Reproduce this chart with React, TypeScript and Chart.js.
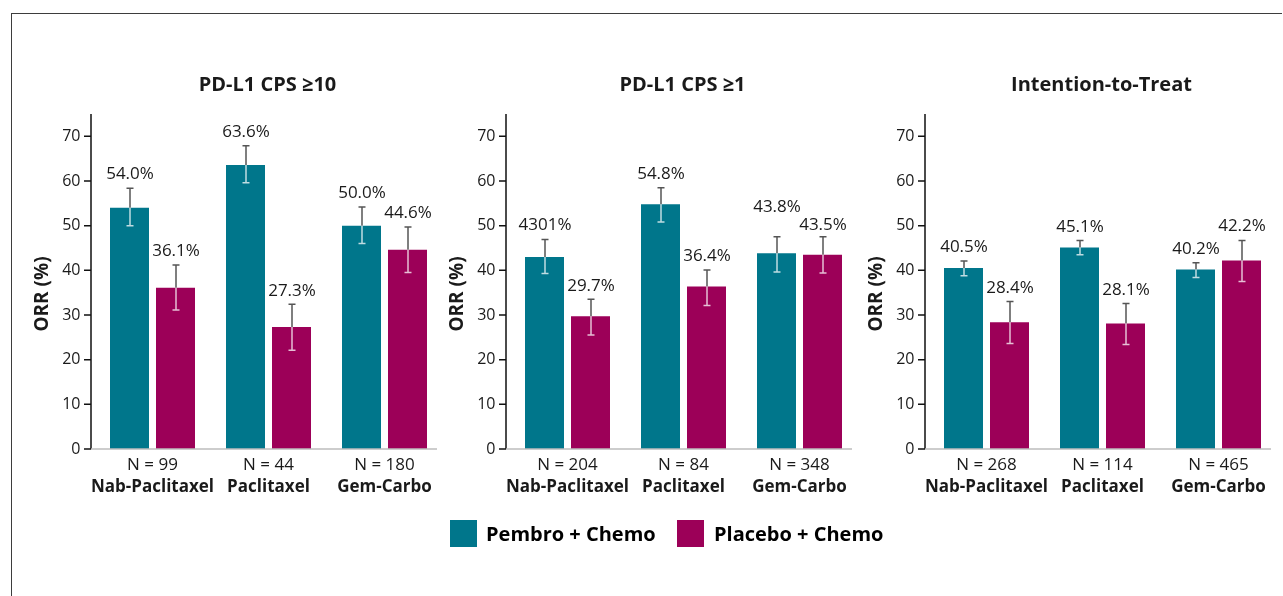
import React, { useEffect, useRef } from 'react';
import { Chart, registerables } from 'chart.js';

Chart.register(...registerables);

// ---------- data ----------
const categories = ['Nab-Paclitaxel', 'Paclitaxel', 'Gem-Carbo'];
const panelTitles = ['PD-L1 CPS ≥10', 'PD-L1 CPS ≥1', 'Intention-to-Treat'];
const seriesNames = ['Pembro + Chemo', 'Placebo + Chemo'];
const yTickValues = [0, 10, 20, 30, 40, 50, 60, 70];
const yAxisTitle = 'ORR (%)';

const nCps10 = ['N = 99', 'N = 44', 'N = 180'];
const nCps1 = ['N = 204', 'N = 84', 'N = 348'];
const nItt = ['N = 268', 'N = 114', 'N = 465'];

const pembroCps10 = [54.0, 63.6, 50.0];
const pembroCps10Low = [50.0, 59.6, 46.0];
const pembroCps10High = [58.4, 67.9, 54.2];
const pembroCps10Labels = ['54.0%', '63.6%', '50.0%'];
const placeboCps10 = [36.1, 27.3, 44.6];
const placeboCps10Low = [31.1, 22.1, 39.5];
const placeboCps10High = [41.2, 32.4, 49.7];
const placeboCps10Labels = ['36.1%', '27.3%', '44.6%'];

const pembroCps1 = [43.0, 54.8, 43.8];
const pembroCps1Low = [39.3, 50.8, 39.6];
const pembroCps1High = [46.9, 58.5, 47.5];
const pembroCps1Labels = ['4301%', '54.8%', '43.8%'];
const placeboCps1 = [29.7, 36.4, 43.5];
const placeboCps1Low = [25.5, 32.1, 39.4];
const placeboCps1High = [33.5, 40.1, 47.5];
const placeboCps1Labels = ['29.7%', '36.4%', '43.5%'];

const pembroItt = [40.5, 45.1, 40.2];
const pembroIttLow = [38.8, 43.5, 38.4];
const pembroIttHigh = [42.1, 46.7, 41.7];
const pembroIttLabels = ['40.5%', '45.1%', '40.2%'];
const placeboItt = [28.4, 28.1, 42.2];
const placeboIttLow = [23.6, 23.4, 37.5];
const placeboIttHigh = [33.0, 32.6, 46.7];
const placeboIttLabels = ['28.4%', '28.1%', '42.2%'];

// ---------- style / layout ----------
const TEAL = '#00768B';
const MAGENTA = '#9C0058';
const TEXT = '#1a1a1a';
const FONT = "'Open Sans', 'Noto Sans', sans-serif";

const CANVAS_TOP = 14;
const CANVAS_H = 582;

type Panel = {
  title: string;
  nLabels: string[];
  values: number[][];
  lows: number[][];
  highs: number[][];
  labels: string[][];
  labelLift: number[][];
  left: number;
  width: number;
  yAxisWidth: number;
  padRight: number;
};

const panels: Panel[] = [
  {
    title: panelTitles[0],
    nLabels: nCps10,
    values: [pembroCps10, placeboCps10],
    lows: [pembroCps10Low, placeboCps10Low],
    highs: [pembroCps10High, placeboCps10High],
    labels: [pembroCps10Labels, placeboCps10Labels],
    labelLift: [[0, 0, 0], [0, 0, 0]],
    left: 14,
    width: 436,
    yAxisWidth: 80.5,
    padRight: 7.5,
  },
  {
    title: panelTitles[1],
    nLabels: nCps1,
    values: [pembroCps1, placeboCps1],
    lows: [pembroCps1Low, placeboCps1Low],
    highs: [pembroCps1High, placeboCps1High],
    labels: [pembroCps1Labels, placeboCps1Labels],
    labelLift: [[0.5, 0, 16.5], [0, 0, -1.5]],
    left: 430,
    width: 440,
    yAxisWidth: 79.5,
    padRight: 12.5,
  },
  {
    title: panelTitles[2],
    nLabels: nItt,
    values: [pembroItt, placeboItt],
    lows: [pembroIttLow, placeboIttLow],
    highs: [pembroIttHigh, placeboIttHigh],
    labels: [pembroIttLabels, placeboIttLabels],
    labelLift: [[0, 0, 0], [0, 0, 1]],
    left: 850,
    width: 433,
    yAxisWidth: 78.5,
    padRight: 6.5,
  },
];

function makeDecorPlugin(p: Panel) {
  return {
    id: 'panelDecor',
    afterDatasetsDraw(chart: any) {
      const { ctx, chartArea, scales } = chart;
      const y = scales.y;
      const axisX = chartArea.left - 3.5;
      const zeroY = y.getPixelForValue(0);
      ctx.save();
      // y axis line + tick marks
      ctx.strokeStyle = '#111';
      ctx.lineWidth = 1.5;
      ctx.beginPath();
      ctx.moveTo(axisX, chartArea.top);
      ctx.lineTo(axisX, zeroY);
      yTickValues.forEach((v) => {
        const py = y.getPixelForValue(v);
        ctx.moveTo(axisX - 7, py);
        ctx.lineTo(axisX, py);
      });
      ctx.stroke();
      // x axis line
      ctx.strokeStyle = '#bdbdbd';
      ctx.beginPath();
      ctx.moveTo(axisX, zeroY);
      ctx.lineTo(chartArea.right - 5.5, zeroY);
      ctx.stroke();

      // error bars + value labels
      chart.data.datasets.forEach((_ds: any, di: number) => {
        const meta = chart.getDatasetMeta(di);
        meta.data.forEach((bar: any, i: number) => {
          const cx = Math.round(bar.x);
          const barTop = bar.y;
          const hi = y.getPixelForValue(p.highs[di][i]);
          const lo = y.getPixelForValue(p.lows[di][i]);
          const dark = '#555';
          const light = 'rgba(255,255,255,0.75)';
          ctx.lineWidth = 1.5;
          ctx.strokeStyle = dark;
          ctx.beginPath();
          ctx.moveTo(cx, hi);
          ctx.lineTo(cx, Math.min(barTop, lo));
          ctx.moveTo(cx - 3.5, hi);
          ctx.lineTo(cx + 3.5, hi);
          ctx.stroke();
          ctx.strokeStyle = light;
          ctx.beginPath();
          ctx.moveTo(cx, Math.max(barTop, hi));
          ctx.lineTo(cx, lo);
          ctx.moveTo(cx - 3.5, lo);
          ctx.lineTo(cx + 3.5, lo);
          ctx.stroke();

          ctx.fillStyle = TEXT;
          ctx.font = `17px ${FONT}`;
          ctx.textAlign = 'center';
          ctx.textBaseline = 'middle';
          ctx.fillText(p.labels[di][i], cx, hi - 13.5 - p.labelLift[di][i]);
        });
      });

      // panel title
      ctx.fillStyle = TEXT;
      ctx.font = `bold 20px ${FONT}`;
      ctx.textAlign = 'center';
      ctx.textBaseline = 'middle';
      ctx.fillText(p.title, (chartArea.left + chartArea.right) / 2 - 1, 85 - CANVAS_TOP);

      // y axis title
      ctx.save();
      ctx.translate(axisX - 48, 294 - CANVAS_TOP);
      ctx.rotate(-Math.PI / 2);
      ctx.font = `bold 19px ${FONT}`;
      ctx.fillText(yAxisTitle, 0, 0);
      ctx.restore();

      ctx.restore();
    },
  };
}

function PanelChart({ p }: { p: Panel }) {
  const ref = useRef<HTMLCanvasElement | null>(null);
  useEffect(() => {
    if (!ref.current) return;
    const chart = new Chart(ref.current, {
      type: 'bar',
      data: {
        labels: categories,
        datasets: [
          {
            label: seriesNames[0],
            data: p.values[0],
            backgroundColor: TEAL,
            borderWidth: 0,
            categoryPercentage: 92 / 116,
            barPercentage: 39 / 46,
          },
          {
            label: seriesNames[1],
            data: p.values[1],
            backgroundColor: MAGENTA,
            borderWidth: 0,
            categoryPercentage: 92 / 116,
            barPercentage: 39 / 46,
          },
        ],
      },
      options: {
        responsive: false,
        animation: false,
        devicePixelRatio: 1,
        layout: { padding: { left: 0, right: p.padRight, top: 100, bottom: 91 } },
        plugins: { legend: { display: false }, tooltip: { enabled: false }, title: { display: false } },
        scales: {
          y: {
            min: 0,
            max: 75,
            ticks: {
              stepSize: 10,
              padding: 14,
              color: TEXT,
              font: { family: FONT, size: 16 },
            },
            afterBuildTicks: (scale: any) => {
              scale.ticks = yTickValues.map((v) => ({ value: v }));
            },
            afterFit: (scale: any) => {
              scale.width = p.yAxisWidth;
            },
            grid: { display: false, drawTicks: false },
            border: { display: false },
          },
          x: {
            position: 'bottom',
            grid: { display: false, drawTicks: false },
            border: { display: false },
            ticks: {
              padding: 6,
              maxRotation: 0,
              minRotation: 0,
              autoSkip: false,
              color: TEXT,
              font: { family: FONT, size: 17 },
              callback: (_v: any, i: number) => p.nLabels[i],
            },
            afterFit: (scale: any) => {
              scale.height = 26;
            },
          },
          x2: {
            type: 'category',
            labels: categories,
            position: 'bottom',
            offset: true,
            grid: { display: false, drawTicks: false },
            border: { display: false },
            ticks: {
              padding: 2,
              maxRotation: 0,
              minRotation: 0,
              autoSkip: false,
              color: TEXT,
              font: { family: FONT, size: 17, weight: 'bold' },
            },
            afterFit: (scale: any) => {
              scale.height = 30;
            },
          },
        },
      } as any,
      plugins: [makeDecorPlugin(p)],
    });
    return () => chart.destroy();
  }, [p]);
  return (
    <canvas
      ref={ref}
      width={p.width}
      height={CANVAS_H}
      style={{ position: 'absolute', left: p.left, top: CANVAS_TOP, width: p.width, height: CANVAS_H }}
    />
  );
}

export default function App() {
  const legendText: React.CSSProperties = {
    position: 'absolute',
    top: 520,
    height: 27,
    lineHeight: '27px',
    fontFamily: FONT,
    fontWeight: 'bold',
    fontSize: 20,
    color: '#000',
    whiteSpace: 'nowrap',
  };
  return (
    <div
      style={{
        position: 'fixed',
        left: 0,
        top: 0,
        width: 1283,
        height: 596,
        background: '#fff',
        overflow: 'hidden',
      }}
    >
      <div
        style={{
          position: 'absolute',
          left: 11,
          top: 13,
          width: 1271,
          height: 600,
          borderTop: '1.3px solid #3d3d3d',
          borderLeft: '1.3px solid #3d3d3d',
          boxSizing: 'border-box',
        }}
      />
      {panels.map((p, i) => (
        <PanelChart key={i} p={p} />
      ))}
      <div style={{ position: 'absolute', left: 450, top: 520, width: 27, height: 27, background: TEAL }} />
      <div style={{ ...legendText, left: 486 }}>{seriesNames[0]}</div>
      <div style={{ position: 'absolute', left: 677, top: 520, width: 27, height: 27, background: MAGENTA }} />
      <div style={{ ...legendText, left: 714 }}>{seriesNames[1]}</div>
    </div>
  );
}
